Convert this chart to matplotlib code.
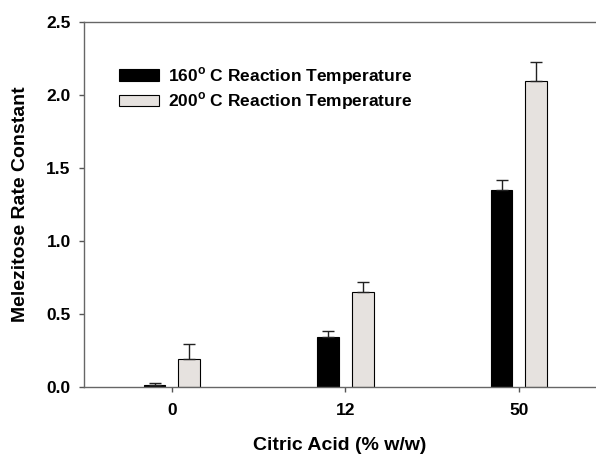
import numpy as np
import matplotlib
matplotlib.use("Agg")
import matplotlib.pyplot as plt

plt.rcParams["font.family"] = ["Liberation Sans", "DejaVu Sans"]
plt.rcParams["font.weight"] = "bold"
plt.rcParams["mathtext.fontset"] = "custom"
plt.rcParams["mathtext.rm"] = "Liberation Sans:bold"
plt.rcParams["mathtext.bf"] = "Liberation Sans:bold"

# data
categories = ["0", "12", "50"]
rate_160 = [0.015, 0.345, 1.351]
err_160 = [0.012, 0.04, 0.065]
rate_200 = [0.19, 0.65, 2.098]
err_200 = [0.107, 0.07, 0.126]
labels = [r"160$^{\mathbf{o}}$ C Reaction Temperature",
          r"200$^{\mathbf{o}}$ C Reaction Temperature"]


def plot_graph(output_file):
    fig = plt.figure(figsize=(5.96, 4.55), dpi=100)
    ax = fig.add_axes([84 / 596, 1 - 387 / 455, 512 / 596, 365 / 455])

    x = np.arange(len(categories))
    w = 0.125
    ax.bar(x - 0.1, rate_160, w, color="black", edgecolor="black",
           linewidth=0.8, label=labels[0])
    ax.bar(x + 0.1, rate_200, w, color="#e6e2df", edgecolor="black",
           linewidth=0.8, label=labels[1])
    ax.errorbar(x - 0.1, rate_160, yerr=[np.zeros(3), err_160], fmt="none",
                ecolor="#222222", elinewidth=1, capsize=4, capthick=1)
    ax.errorbar(x + 0.1, rate_200, yerr=[np.zeros(3), err_200], fmt="none",
                ecolor="#222222", elinewidth=1, capsize=4, capthick=1)

    ax.set_xlim(-0.507, 2.444)
    ax.set_ylim(0, 2.5)
    ax.set_xticks(x)
    ax.set_xticklabels(categories)
    ax.set_yticks([0, 0.5, 1.0, 1.5, 2.0, 2.5])
    ax.set_yticklabels(["0.0", "0.5", "1.0", "1.5", "2.0", "2.5"])
    ax.tick_params(direction="out", length=3.6, width=1, color="#555555",
                   labelsize=12.5)
    ax.tick_params(axis="x", pad=8)
    ax.tick_params(axis="y", pad=6)

    for s in ["left", "bottom", "top"]:
        ax.spines[s].set_color("#666666")
        ax.spines[s].set_linewidth(1)
    ax.spines["right"].set_visible(False)

    ax.set_xlabel("Citric Acid (% w/w)", fontsize=14, fontweight="bold")
    ax.set_ylabel("Melezitose Rate Constant", fontsize=14,
                  fontweight="bold")
    ax.xaxis.set_label_coords(0.5, -0.136)
    ax.yaxis.set_label_coords(-0.107, 0.5)

    ax.legend(loc="upper left", bbox_to_anchor=(0.051, 0.905), frameon=False,
              fontsize=12.5, borderpad=0, handlelength=2.3, handleheight=0.66,
              handletextpad=0.52, labelspacing=0.2)

    fig.savefig(output_file, dpi=100)


if __name__ == "__main__":
    plot_graph("out.png")
